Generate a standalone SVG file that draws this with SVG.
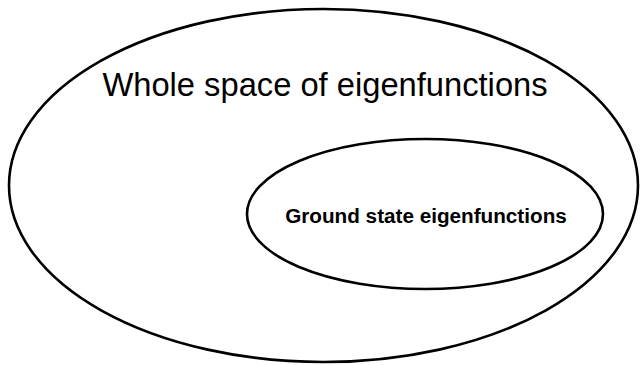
<svg xmlns="http://www.w3.org/2000/svg" width="640" height="365" viewBox="0 0 640 365">
<style>
.set{fill:none;stroke:#000;stroke-width:2.6}
.lbl{font-family:"Liberation Sans",Arial,Helvetica,sans-serif;fill:#000;text-anchor:middle}
</style>
<rect width="640" height="365" fill="#fff"/>
<g id="whole">
<ellipse class="set" cx="323.5" cy="185.5" rx="314.5" ry="176.5"/>
<text class="lbl" x="325" y="96" font-size="32.7">Whole space of eigenfunctions</text>
</g>
<g id="ground">
<ellipse class="set" cx="425" cy="214" rx="178" ry="75"/>
<text class="lbl" x="426" y="223" font-size="20.7" font-weight="bold">Ground state eigenfunctions</text>
</g>
<g id="connectors"/>
</svg>
